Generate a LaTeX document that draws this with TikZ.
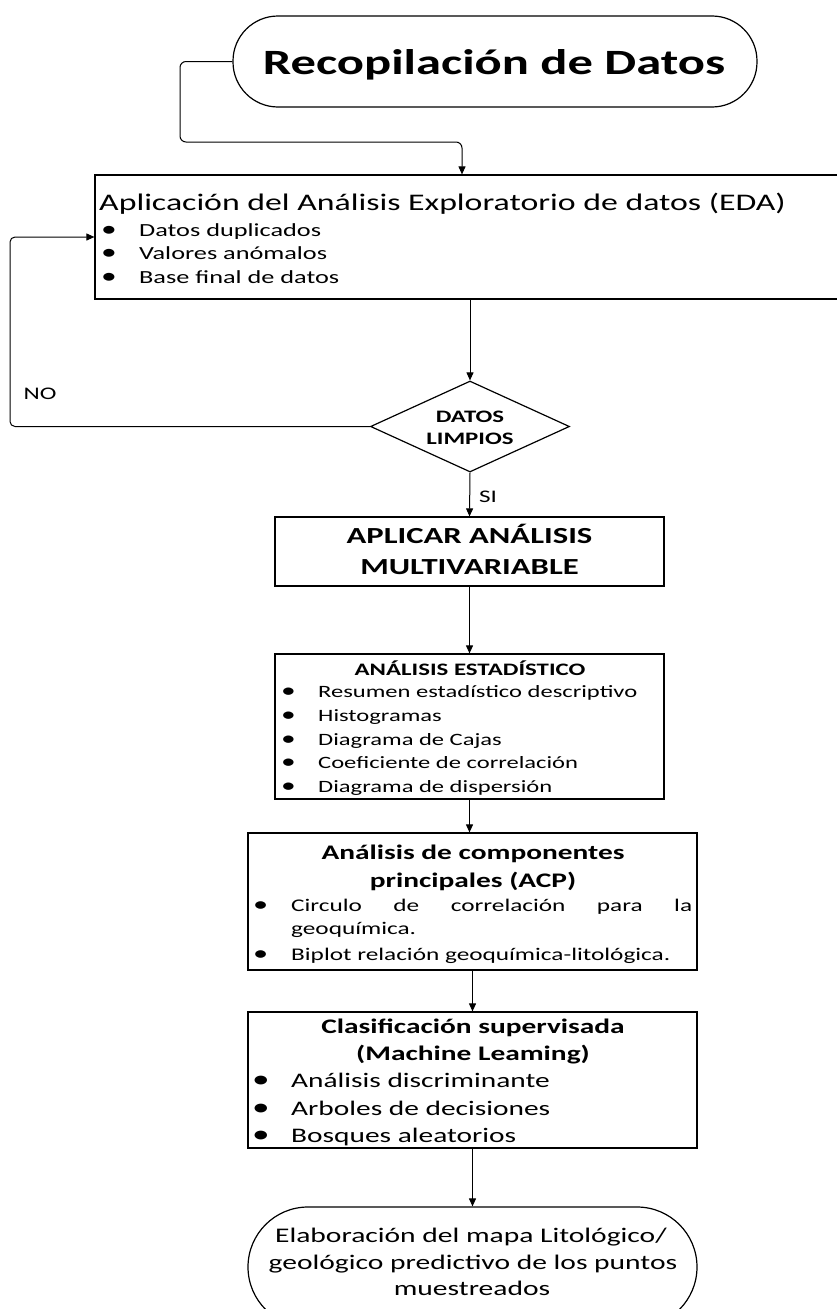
\documentclass[tikz,border=0pt]{standalone}
\usepackage{fontspec}
\setmainfont{Carlito}[FakeStretch=1.42]
\usetikzlibrary{arrows.meta,shapes.geometric}
\newcommand\myfs[2]{\fontsize{#1}{#2}\selectfont}
\newcommand\mybul[1]{\makebox[#1pt][l]{\smash{\raisebox{-0.04em}{\scalebox{1.2}{\textbullet}}}}}
\tikzset{
  box/.style={draw, line width=1.2pt, rectangle, inner sep=0pt},
  conn/.style={line width=1pt, -{Triangle[width=7pt,length=8pt]}},
  txt/.style={inner sep=0pt, anchor=base west},
  ctxt/.style={inner sep=0pt, anchor=base},
}
\begin{document}
\begin{tikzpicture}[x=1pt,y=-1pt]
\useasboundingbox (0,0) rectangle (837,1309);
\clip (0,0) rectangle (837,1309);
% ---- shapes
\node[box, rounded corners=45pt, minimum width=524pt, minimum height=91pt] (recop) at (495,61.5) {};
\node[box, minimum width=750pt, minimum height=124pt] (eda) at (470,237) {};
\node[draw, line width=1.2pt, diamond, inner sep=0pt, minimum width=199pt, minimum height=91pt] (dt) at (470,426.5) {};
\node[box, minimum width=389pt, minimum height=69pt] (apl) at (469.5,551.5) {};
\node[box, minimum width=389pt, minimum height=145pt] (stat) at (469.5,726.5) {};
\node[box, minimum width=449pt, minimum height=137pt] (acp) at (472.5,901.5) {};
\node[box, minimum width=449pt, minimum height=136pt] (clas) at (472.5,1080) {};
\node[box, rounded corners=60pt, minimum width=449pt, minimum height=120pt] (fin) at (472.5,1267) {};
% ---- texts
\node[ctxt, font=\myfs{35.6}{40}\bfseries] (recopt) at (494,74) {Recopilación de Datos};
\node[txt, font=\myfs{23.8}{28}] (edat) at (99,210) {Aplicación del Análisis Exploratorio de datos (EDA)};
\node[txt, font=\myfs{18.5}{20}] (eda1) at (101,236) {\mybul{38}Datos duplicados};
\node[txt, font=\myfs{18.5}{20}] (eda2) at (101,259) {\mybul{38}Valores anómalos};
\node[txt, font=\myfs{18.5}{20}] (eda3) at (101,283) {\mybul{38}Base final de datos};
\node[txt, font=\myfs{17.7}{20}] (no) at (23.5,399) {NO};
\node[ctxt, font=\myfs{17.5}{20}\bfseries] (dt1) at (470,422) {DATOS};
\node[ctxt, font=\myfs{17.5}{20}\bfseries] (dt2) at (470,444) {LIMPIOS};
\node[txt, font=\myfs{17.7}{20}] (si) at (479,502) {SI};
\node[ctxt, font=\myfs{23}{28}\bfseries] (apl1) at (469.5,543) {APLICAR ANÁLISIS};
\node[ctxt, font=\myfs{23}{28}\bfseries] (apl2) at (469.5,574) {MULTIVARIABLE};
\node[ctxt, font=\myfs{17.5}{20}\bfseries] (statt) at (470,675) {ANÁLISIS ESTADÍSTICO};
\node[txt, font=\myfs{17.3}{20}] (st1) at (281,697) {\mybul{37}Resumen estadístico descriptivo};
\node[txt, font=\myfs{17.3}{20}] (st2) at (281,721) {\mybul{37}Histogramas};
\node[txt, font=\myfs{17.3}{20}] (st3) at (281,745) {\mybul{37}Diagrama de Cajas};
\node[txt, font=\myfs{17.3}{20}] (st4) at (281,768) {\mybul{37}Coeficiente de correlación};
\node[txt, font=\myfs{17.3}{20}] (st5) at (281,792) {\mybul{37}Diagrama de dispersión};
\node[ctxt, font=\myfs{20.7}{24}\bfseries] (acpt1) at (473,859) {Análisis de componentes};
\node[ctxt, font=\myfs{20.7}{24}\bfseries] (acpt2) at (473,887) {principales (ACP)};
\node[txt, font=\myfs{17.8}{20}] (acp1) at (253,911) {\mybul{38}\makebox[401pt][l]{Circulo\hfill de\hfill correlación\hfill para\hfill la}};
\node[txt, font=\myfs{17.8}{20}] (acp2) at (291,934) {geoquímica.};
\node[txt, font=\myfs{17.8}{20}] (acp3) at (253,960) {\mybul{38}Biplot relación geoquímica-litológica.};
\node[ctxt, font=\myfs{20.7}{24}\bfseries] (clast1) at (473,1033) {Clasificación supervisada};
\node[ctxt, font=\myfs{20.7}{24}\bfseries] (clast2) at (473,1060) {(Machine Leaming)};
\node[txt, font=\myfs{20.7}{24}] (cl1) at (252,1087) {\mybul{39}Análisis discriminante};
\node[txt, font=\myfs{20.7}{24}] (cl2) at (252,1115) {\mybul{39}Arboles de decisiones};
\node[txt, font=\myfs{20.7}{24}] (cl3) at (252,1142) {\mybul{39}Bosques aleatorios};
\node[ctxt, font=\myfs{20.8}{24}] (fin1) at (471,1242) {Elaboración del mapa Litológico/};
\node[ctxt, font=\myfs{20.8}{24}] (fin2) at (473,1269) {geológico predictivo de los puntos};
\node[ctxt, font=\myfs{20.8}{24}] (fin3) at (472,1295) {muestreados};
% ---- connectors
\coordinate (c1) at (180,61.5);
\coordinate (c2) at (180,142);
\coordinate (c3) at (462,142);
\draw[conn, rounded corners=6pt] (recop.west) -- (c1) -- (c2) -- (c3) -- (c3 |- eda.north);
\draw[conn] (dt.north |- eda.south) -- (dt.north);
\coordinate (l1) at (10,426.5);
\coordinate (l2) at (10,237);
\draw[conn, rounded corners=5pt] (dt.west) -- (l1) -- (l2) -- (eda.west);
\draw[conn] (dt.south) -- (apl.north);
\draw[conn] (apl.south) -- (stat.north);
\draw[conn] (stat.south) -- (stat.south |- acp.north);
\draw[conn] (acp.south) -- (clas.north);
\draw[conn] (clas.south) -- (fin.north);
\end{tikzpicture}
\end{document}
